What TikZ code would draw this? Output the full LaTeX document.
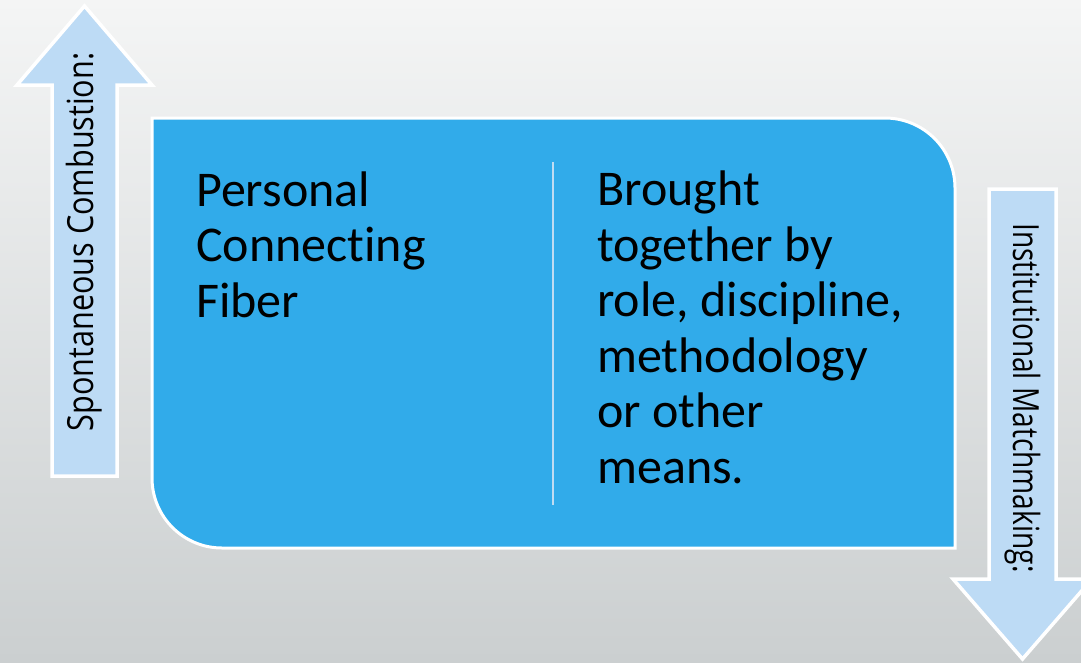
\documentclass[tikz,border=0pt]{standalone}
\usepackage{fontspec}
\newfontfamily\bodyfont[Ligatures=NoCommon]{Carlito}
\newfontfamily\leftlabelfont[FakeStretch=0.85]{Open Sans}
\newfontfamily\rightlabelfont[FakeStretch=0.78]{Open Sans}
\definecolor{bgtop}{HTML}{F4F5F5}
\definecolor{bgbot}{HTML}{CBCFD0}
\definecolor{panelblue}{HTML}{31ABEA}
\definecolor{arrowblue}{HTML}{BDDBF5}
\definecolor{rulecol}{HTML}{C0DCF2}
\tikzset{
  arrowshape/.style={fill=arrowblue, draw=white, line width=3.5pt, line join=miter},
  panel/.style={fill=panelblue, draw=white, line width=3pt},
  bodytext/.style={inner sep=0pt, align=left, anchor=base west,
    font=\bodyfont\fontsize{50}{55.5}\selectfont},
  sidelabel/.style={inner sep=0pt},
}
\begin{document}
\begin{tikzpicture}[x=1pt,y=-1pt]
  \useasboundingbox (0,0) rectangle (1081,662);
  \clip (0,0) rectangle (1081,662);
  % background
  \shade[top color=bgtop, bottom color=bgbot] (0,0) rectangle (1081,662);

  % upward arrow on the left
  \path[arrowshape] (52,476) -- (52,85) -- (17,85) -- (84.5,6) -- (152,85)
    -- (117,85) -- (117,476) -- cycle;
  \node[sidelabel, rotate=90, font=\leftlabelfont\fontsize{36}{40}\selectfont]
    (spont) at (84,242) {Spontaneous Combustion:};

  % downward arrow on the right
  \path[arrowshape] (989,189) -- (1056,189) -- (1056,579) -- (1092,579)
    -- (1022.5,659) -- (953,579) -- (989,579) -- cycle;
  \node[sidelabel, rotate=-90, font=\rightlabelfont\fontsize{36}{40}\selectfont]
    (inst) at (1023,398) {Institutional Matchmaking:};

  % central panel with two rounded corners
  \path[panel] (152,118) -- (885,118)
    .. controls (923.7,118) and (955,149.3) .. (955,188)
    -- (955,548) -- (222,548)
    .. controls (183.3,548) and (152,516.7) .. (152,478) -- cycle;

  % divider
  \coordinate (ruletop) at (553,162);
  \coordinate (rulebot) at (553,505);
  \draw[rulecol, line width=2.5pt] (ruletop) -- (rulebot);

  % panel text (anchored at the baseline of the last line)
  \node[bodytext] (left) at (196,317) {Personal\\Connecting\\Fiber};
  \node[bodytext] (right) at (597,483) {Brought\\together by\\role, discipline,\\methodology\\or other\\means.};
\end{tikzpicture}
\end{document}
